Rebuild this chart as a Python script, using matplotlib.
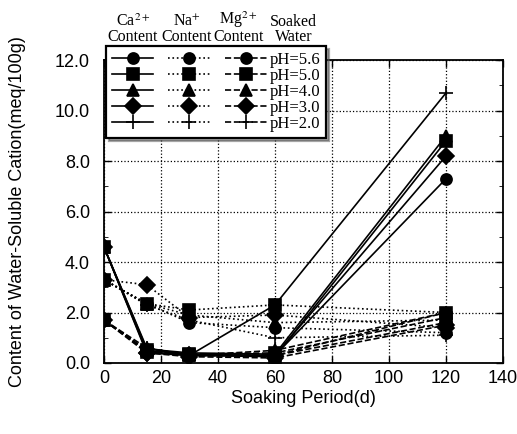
import matplotlib
matplotlib.use("Agg")
import matplotlib.pyplot as plt
from matplotlib.lines import Line2D
from matplotlib.ticker import MultipleLocator

days = [0, 15, 30, 60, 120]
ph_labels = ["pH=5.6", "pH=5.0", "pH=4.0", "pH=3.0", "pH=2.0"]
markers = ["o", "s", "^", "D", "+"]

# Ca2+ content (solid)
ca = [
    [4.6, 0.50, 0.35, 0.30, 7.3],
    [4.6, 0.45, 0.30, 0.25, 8.8],
    [4.6, 0.55, 0.40, 0.35, 9.0],
    [4.6, 0.40, 0.30, 0.30, 8.2],
    [4.6, 0.60, 0.30, 2.30, 10.7],
]
# Na+ content (dotted)
na = [
    [3.3, 2.35, 1.60, 1.40, 1.20],
    [3.3, 2.35, 2.10, 2.30, 2.00],
    [3.3, 2.35, 1.90, 1.60, 1.70],
    [3.3, 3.10, 1.80, 1.90, 1.40],
    [3.3, 2.30, 1.70, 1.00, 1.10],
]
# Mg2+ content (dashed)
mg = [
    [1.7, 0.50, 0.30, 0.30, 1.60],
    [1.7, 0.50, 0.35, 0.40, 1.80],
    [1.7, 0.60, 0.30, 0.50, 2.00],
    [1.7, 0.40, 0.25, 0.20, 1.50],
    [1.7, 0.45, 0.30, 0.30, 2.00],
]
headers = ["Ca$^{2+}$\nContent", "Na$^{+}$\nContent", "Mg$^{2+}$\nContent", "Soaked\nWater"]

plt.rcParams['font.family'] = ['Liberation Sans', 'DejaVu Sans']
plt.rcParams['mathtext.fontset'] = 'stix'
fig = plt.figure(figsize=(5.17, 4.34), dpi=100)
ax = fig.add_axes([0.201, 0.1636, 0.772, 0.698])

styles = [("-", ca), (":", na), ("--", mg)]
handles = []
for ls, data in styles:
    for i in range(5):
        ms = 10 if markers[i] == "+" else 8
        ax.plot(days, data[i], linestyle=ls, color="black", lw=1.2,
                marker=markers[i], ms=ms, mfc="black", mec="black", mew=1.2)
        handles.append(Line2D([], [], linestyle=ls, color="black", lw=1.2,
                              marker=markers[i], ms=ms, mfc="black", mec="black", mew=1.2))

ax.set_xlim(0, 140)
ax.set_ylim(0, 12)
ax.xaxis.set_major_locator(MultipleLocator(20))
ax.yaxis.set_major_locator(MultipleLocator(2))
ax.yaxis.set_minor_locator(MultipleLocator(1))
ax.yaxis.set_major_formatter(matplotlib.ticker.FormatStrFormatter('%.1f'))
ax.tick_params(which="both", direction="in", top=True, right=True, labelsize=13)
ax.tick_params(which="major", length=5, width=1)
ax.tick_params(which="minor", length=3)
ax.tick_params(axis="y", which="major", pad=10)
ax.tick_params(axis="x", which="major", pad=5)
ax.grid(True, which="major", linestyle=":", color="black", lw=0.9)
for s in ax.spines.values():
    s.set_linewidth(1.3)

ax.set_xlabel("Soaking Period(d)", fontsize=13, labelpad=2)
ax.set_ylabel("Content of Water-Soluble Cation(meq/100g)", fontsize=13, labelpad=21)

labels = [""] * 10 + ph_labels
leg = ax.legend(handles, labels, ncol=3, loc="upper left",
                bbox_to_anchor=(0.005, 1.045), fancybox=False, shadow=True,
                framealpha=1, edgecolor="black", handlelength=2.5,
                handletextpad=0.15, columnspacing=0.75, labelspacing=0.0,
                borderpad=0.35, borderaxespad=0,
                prop={"family": "Liberation Serif", "size": 12})
leg.get_frame().set_linewidth(1.6)
leg.set_zorder(10)

hx = [0.073, 0.207, 0.338, 0.475]
for x, h in zip(hx, headers):
    ax.text(x, 1.05, h, transform=ax.transAxes, ha="center", va="bottom",
            family="Liberation Serif", fontsize=11.5, linespacing=0.9)

fig.savefig("out.png", dpi=100)
